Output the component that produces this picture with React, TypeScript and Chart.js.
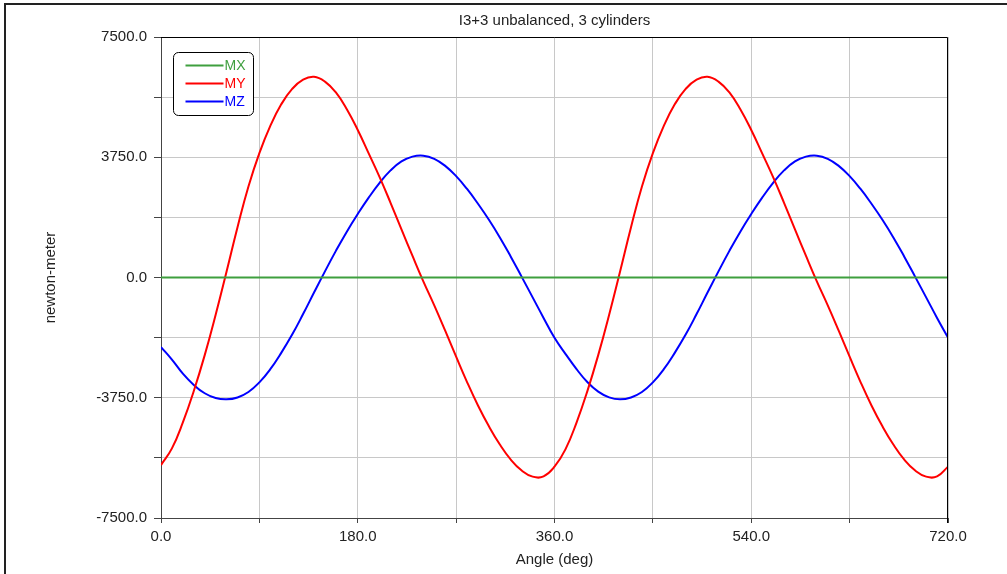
import React, { useEffect, useRef } from 'react';
import { Chart, registerables } from 'chart.js';

Chart.register(...registerables);

const TITLE = 'I3+3 unbalanced, 3 cylinders';
const X_TITLE = 'Angle (deg)';
const Y_TITLE = 'newton-meter';

const angles = [
  0, 10, 20, 30, 40, 50, 60, 70, 80, 90, 100, 110, 120, 130, 140, 150, 160, 170,
  180, 190, 200, 210, 220, 230, 240, 250, 260, 270, 280, 290, 300, 310, 320, 330, 340, 350,
  360, 370, 380, 390, 400, 410, 420, 430, 440, 450, 460, 470, 480, 490, 500, 510, 520, 530,
  540, 550, 560, 570, 580, 590, 600, 610, 620, 630, 640, 650, 660, 670, 680, 690, 700, 710,
  720,
];

const mxValues = [
  0, 0, 0, 0, 0, 0, 0, 0, 0, 0, 0, 0, 0, 0, 0, 0, 0, 0,
  0, 0, 0, 0, 0, 0, 0, 0, 0, 0, 0, 0, 0, 0, 0, 0, 0, 0,
  0, 0, 0, 0, 0, 0, 0, 0, 0, 0, 0, 0, 0, 0, 0, 0, 0, 0,
  0, 0, 0, 0, 0, 0, 0, 0, 0, 0, 0, 0, 0, 0, 0, 0, 0, 0,
  0,
];

const myValues = [
  -5850, -5330, -4520, -3540, -2420, -1160, 190, 1570, 2840, 3880, 4730, 5400, 5880, 6170, 6260, 6110, 5770, 5250,
  4600, 3870, 3130, 2330, 1500, 680, -120, -870, -1660, -2470, -3260, -3990, -4640, -5210, -5680, -6020, -6210, -6200,
  -5900, -5360, -4540, -3550, -2420, -1160, 190, 1570, 2840, 3880, 4730, 5400, 5880, 6170, 6260, 6110, 5770, 5250,
  4600, 3870, 3130, 2330, 1500, 680, -120, -870, -1660, -2470, -3260, -3990, -4640, -5210, -5680, -6020, -6210, -6200,
  -5900,
];

const mzValues = [
  -2170, -2560, -3000, -3350, -3610, -3760, -3800, -3740, -3570, -3270, -2860, -2350, -1780, -1140, -470, 190, 830, 1430,
  1980, 2490, 2950, 3340, 3620, 3770, 3800, 3700, 3480, 3160, 2760, 2300, 1800, 1250, 650, 20, -620, -1260,
  -1880, -2380, -2850, -3260, -3560, -3740, -3800, -3740, -3570, -3270, -2860, -2350, -1780, -1140, -470, 190, 830, 1430,
  1980, 2490, 2950, 3340, 3620, 3770, 3800, 3700, 3480, 3160, 2760, 2300, 1800, 1250, 650, 20, -620, -1260,
  -1875,
];

const seriesNames = ['MX', 'MY', 'MZ'];
const seriesColors = ['#3f9f3f', '#ff0000', '#0000ff'];

const Y_MIN = -7500;
const Y_MAX = 7500;
const Y_STEP = 1875;
const Y_LABEL_STEP = 3750;
const X_MIN = 0;
const X_MAX = 720;
const X_STEP = 90;
const X_LABEL_STEP = 180;

const FONT = '"Liberation Sans", Arial, sans-serif';

const decorPlugin = {
  id: 'decor',
  afterDatasetsDraw(chart: any) {
    const { ctx, chartArea } = chart;
    const { left, top, right, bottom } = chartArea;
    ctx.save();
    ctx.strokeStyle = '#000';
    ctx.lineWidth = 1;
    ctx.beginPath();
    ctx.moveTo(left, top + 0.5);
    ctx.lineTo(right - 0.5, top + 0.5);
    ctx.lineTo(right - 0.5, bottom + 5);
    ctx.stroke();

    const bx = left + 12.5;
    const by = top + 15.5;
    const bw = 80;
    const bh = 63;
    const r = 5;
    ctx.beginPath();
    ctx.moveTo(bx + r, by);
    ctx.lineTo(bx + bw - r, by);
    ctx.arcTo(bx + bw, by, bx + bw, by + r, r);
    ctx.lineTo(bx + bw, by + bh - r);
    ctx.arcTo(bx + bw, by + bh, bx + bw - r, by + bh, r);
    ctx.lineTo(bx + r, by + bh);
    ctx.arcTo(bx, by + bh, bx, by + bh - r, r);
    ctx.lineTo(bx, by + r);
    ctx.arcTo(bx, by, bx + r, by, r);
    ctx.closePath();
    ctx.fillStyle = '#fff';
    ctx.fill();
    ctx.strokeStyle = '#000';
    ctx.lineWidth = 1;
    ctx.stroke();

    ctx.font = '14px ' + FONT;
    ctx.textBaseline = 'middle';
    ctx.textAlign = 'left';
    seriesNames.forEach((name, i) => {
      const y = by + 13 + i * 18;
      ctx.strokeStyle = seriesColors[i];
      ctx.lineWidth = 2;
      ctx.beginPath();
      ctx.moveTo(bx + 12, y);
      ctx.lineTo(bx + 50, y);
      ctx.stroke();
      ctx.fillStyle = seriesColors[i];
      ctx.fillText(name, bx + 51, y + 0.5);
    });
    ctx.restore();
  },
  afterDraw(chart: any) {
    const { ctx, width, height } = chart;
    ctx.save();
    ctx.fillStyle = '#222';
    ctx.fillRect(4, 3, width - 4, 2);
    ctx.fillRect(4, 3, 2, height - 3);
    ctx.restore();
  },
};

export default function App() {
  const canvasRef = useRef<HTMLCanvasElement | null>(null);

  useEffect(() => {
    const canvas = canvasRef.current;
    if (!canvas) return;
    const values = [mxValues, myValues, mzValues];
    const chart = new Chart(canvas, {
      type: 'line',
      data: {
        datasets: seriesNames.map((name, i) => ({
          label: name,
          data: angles.map((a, j) => ({ x: a, y: values[i][j] })),
          borderColor: seriesColors[i],
          backgroundColor: seriesColors[i],
          borderWidth: 2,
          pointRadius: 0,
          fill: false,
          tension: 0.45,
        })),
      },
      options: {
        responsive: false,
        animation: false,
        devicePixelRatio: 1,
        layout: { padding: { left: 0, top: 0, right: 59, bottom: 0 } },
        plugins: {
          legend: { display: false },
          tooltip: { enabled: false },
          title: {
            display: true,
            text: TITLE,
            fullSize: false,
            color: '#222',
            font: { family: FONT, size: 15, weight: 'normal' },
            padding: { top: 12, bottom: 7 },
          },
        },
        scales: {
          x: {
            type: 'linear',
            min: X_MIN,
            max: X_MAX,
            afterFit: (scale: any) => {
              scale.height = 56;
            },
            border: { color: '#444', width: 1 },
            grid: { color: '#c8c8c8', lineWidth: 1, tickLength: 5, tickColor: '#444' },
            ticks: {
              stepSize: X_STEP,
              autoSkip: false,
              maxRotation: 0,
              padding: 5,
              color: '#222',
              font: { family: FONT, size: 15 },
              callback: (v: any) => (Number(v) % X_LABEL_STEP === 0 ? Number(v).toFixed(1) : ''),
            },
            title: {
              display: true,
              text: X_TITLE,
              color: '#222',
              font: { family: FONT, size: 15 },
              padding: { top: 0, bottom: 5 },
            },
          },
          y: {
            type: 'linear',
            min: Y_MIN,
            max: Y_MAX,
            afterFit: (scale: any) => {
              scale.width = 161;
            },
            border: { color: '#444', width: 1 },
            grid: { color: '#c8c8c8', lineWidth: 1, tickLength: 7, tickColor: '#444' },
            ticks: {
              stepSize: Y_STEP,
              autoSkip: false,
              padding: 7,
              color: '#222',
              font: { family: FONT, size: 15 },
              callback: (v: any) => (Number(v) % Y_LABEL_STEP === 0 ? Number(v).toFixed(1) : ''),
            },
            title: {
              display: true,
              text: Y_TITLE,
              color: '#222',
              font: { family: FONT, size: 15 },
              padding: { top: 42, bottom: 0 },
            },
          },
        },
      },
      plugins: [decorPlugin],
    });
    return () => chart.destroy();
  }, []);

  return (
    <div style={{ position: 'fixed', left: 0, top: 0, width: 1007, height: 574, background: '#fff' }}>
      <canvas ref={canvasRef} width={1007} height={574} style={{ display: 'block' }} />
    </div>
  );
}
